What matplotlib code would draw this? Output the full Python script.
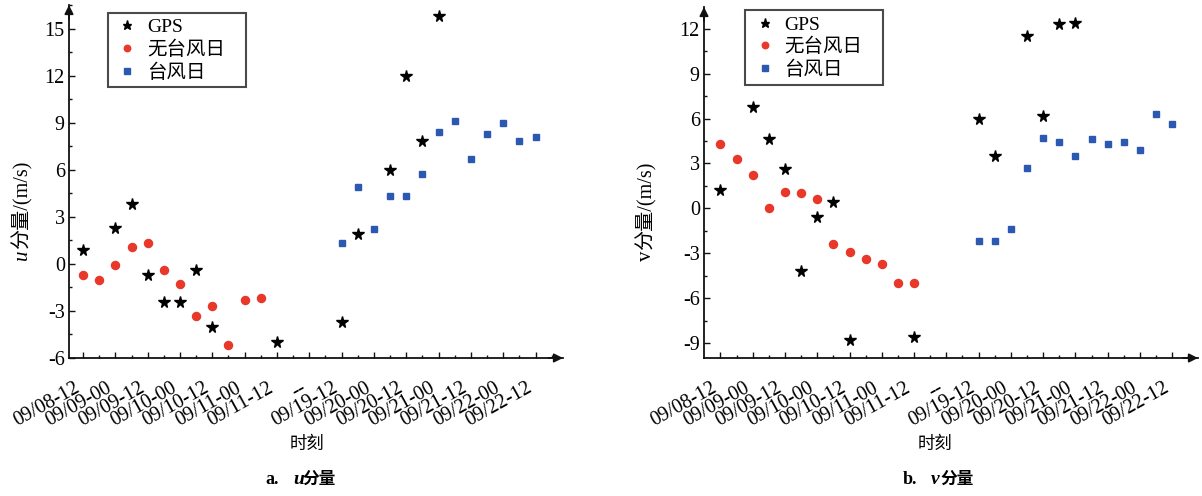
import matplotlib
matplotlib.use('Agg')
import matplotlib.pyplot as plt
from matplotlib.ticker import MultipleLocator, FixedLocator

SERIF = ['Liberation Serif', 'Noto Sans CJK SC']
CJK = ['Noto Sans CJK SC', 'Liberation Serif']
plt.rcParams['font.family'] = SERIF
plt.rcParams['axes.unicode_minus'] = False

# ---------------- data ----------------
tick_labels = ['09/08-12', '09/09-00', '09/09-12', '09/10-00', '09/10-12',
               '09/11-00', '09/11-12', '--', '09/19-12', '09/20-00',
               '09/20-12', '09/21-00', '09/21-12', '09/22-00', '09/22-12']
major_slots = list(range(0, 29, 2))
minor_slots = list(range(1, 30, 2))

# panel a: u component
gps_a_slot = [0, 2, 3, 4, 5, 6, 7, 8, 12, 16, 17, 19, 20, 21, 22]
gps_a_val = [0.9, 2.3, 3.8, -0.7, -2.4, -2.4, -0.4, -4.0, -5.0,
             -3.7, 1.9, 6.0, 12.0, 7.8, 15.8]
calm_a_slot = [0, 1, 2, 3, 4, 5, 6, 7, 8, 9, 10, 11]
calm_a_val = [-0.7, -1.0, -0.1, 1.1, 1.3, -0.4, -1.3, -3.3, -2.7, -5.2, -2.3, -2.2]
typh_a_slot = [16, 17, 18, 19, 20, 21, 22, 23, 24, 25, 26, 27, 28]
typh_a_val = [1.3, 4.9, 2.2, 4.3, 4.3, 5.7, 8.4, 9.1, 6.7, 8.3, 9.0, 7.8, 8.1]

# panel b: v component
gps_b_slot = [0, 2, 3, 4, 5, 6, 7, 8, 12, 16, 17, 19, 20, 21, 22]
gps_b_val = [1.2, 6.8, 4.6, 2.6, -4.2, -0.6, 0.4, -8.8, -8.6,
             6.0, 3.5, 11.5, 6.2, 12.3, 12.4]
calm_b_slot = [0, 1, 2, 3, 4, 5, 6, 7, 8, 9, 10, 11, 12]
calm_b_val = [4.3, 3.3, 2.2, 0.0, 1.1, 1.0, 0.6, -2.4, -2.9, -3.4, -3.7, -5.0, -5.0]
typh_b_slot = [16, 17, 18, 19, 20, 21, 22, 23, 24, 25, 26, 27, 28]
typh_b_val = [-2.2, -2.2, -1.4, 2.7, 4.7, 4.4, 3.5, 4.6, 4.3, 4.4, 3.9, 6.3, 5.6]

series_names = ['GPS', '无台风日', '台风日']
RED = '#e8382a'
BLUE = '#2b58b0'

# ---------------- figure ----------------
W, H = 1202, 496
fig = plt.figure(figsize=(W / 100, H / 100), dpi=100)


def px_axes(l, r, b, t):
    return fig.add_axes([l / W, 1 - b / H, (r - l) / W, (b - t) / H])


def panel(ax, xlim, ylim, gps, calm, typh, legend_xy, ylab, var, lab_xy, italic_var):
    ax.set_xlim(*xlim)
    ax.set_ylim(*ylim)
    for s in ['top', 'right']:
        ax.spines[s].set_visible(False)
    for s in ['left', 'bottom']:
        ax.spines[s].set_linewidth(1.3)
        ax.spines[s].set_color('#111111')
    ax.xaxis.set_major_locator(FixedLocator(major_slots))
    ax.xaxis.set_minor_locator(FixedLocator(minor_slots))
    ax.set_xticklabels(tick_labels, rotation=29, ha='right', va='top',
                       fontsize=14.5, family=SERIF)
    ax.yaxis.set_major_locator(MultipleLocator(3))
    ax.yaxis.set_minor_locator(MultipleLocator(1.5))
    ax.tick_params(which='both', direction='in', width=1.0, color='#111111')
    ax.tick_params(which='major', length=4)
    ax.tick_params(which='minor', length=2.2)
    ax.tick_params(axis='y', labelsize=14.5, pad=3)
    ax.tick_params(axis='x', pad=15)

    # axis arrows
    ax.annotate('', xy=(1.0, 0), xytext=(0.97, 0), xycoords='axes fraction',
                arrowprops=dict(arrowstyle='-|>', color='#111111', lw=1.3,
                                mutation_scale=13, shrinkA=0, shrinkB=0))
    ax.annotate('', xy=(0, 1.0), xytext=(0, 0.96), xycoords='axes fraction',
                arrowprops=dict(arrowstyle='-|>', color='#111111', lw=1.3,
                                mutation_scale=13, shrinkA=0, shrinkB=0))

    h1, = ax.plot(gps[0], gps[1], ls='none', marker='*', ms=8.5, color='black',
                  label=series_names[0], clip_on=False, zorder=3)
    h2, = ax.plot(calm[0], calm[1], ls='none', marker='o', ms=5.8, color=RED,
                  mec=RED, label=series_names[1], clip_on=False, zorder=3)
    h3, = ax.plot(typh[0], typh[1], ls='none', marker='s', ms=5.0, color=BLUE,
                  mec=BLUE, label=series_names[2], clip_on=False, zorder=3)

    leg = ax.legend(handles=[h1, h2, h3], loc='upper left',
                    bbox_to_anchor=(legend_xy[0], legend_xy[1], 0.279, 0.0),
                    mode='expand', borderaxespad=0, fancybox=False,
                    edgecolor='#4a4a4a', framealpha=1,
                    handlelength=1.4, handletextpad=0.3, borderpad=0.3,
                    labelspacing=0.22, markerscale=0.8,
                    prop={'family': SERIF, 'size': 14})
    leg.get_frame().set_linewidth(1.5)

    ax.set_ylabel(ylab, fontsize=14.5, family=SERIF)
    ax.yaxis.set_label_coords(*lab_xy)
    if var:
        ylabel = ax.yaxis.label
        ax.annotate(var, xy=(0.55, 0), xycoords=ylabel, xytext=(0, -0.5),
                    textcoords='offset points', rotation=90, ha='center',
                    va='top', fontsize=15, family='Liberation Serif',
                    style='italic' if italic_var else 'normal')


ax_a = px_axes(69, 563, 358, 5)
panel(ax_a, (-0.87, 29.7), (-6, 16.5),
      (gps_a_slot, gps_a_val), (calm_a_slot, calm_a_val), (typh_a_slot, typh_a_val),
      (0.079, 0.978), '分量/(m/s)', 'u', (-0.074, 0.435), True)

ax_b = px_axes(704, 1198, 358, 7)
panel(ax_b, (-1.02, 29.6), (-10, 13.45),
      (gps_b_slot, gps_b_val), (calm_b_slot, calm_b_val), (typh_b_slot, typh_b_val),
      (0.084, 0.991), '分量/(m/s)', 'v', (-0.097, 0.435), False)


def ftext(x, y, s, **kw):
    return fig.text(x / W, 1 - y / H, s, **kw)


for dx in (0, 628):
    ftext(307 + dx, 444, '时刻', ha='center', va='center', fontsize=12.5, family=CJK)

# captions
ftext(265, 479, 'a.', ha='left', va='center', fontsize=13, weight='bold',
      family='Liberation Serif')
ftext(293, 479, 'u', ha='left', va='center', fontsize=14, weight='bold',
      style='italic', family='Liberation Serif')
ftext(302, 479, '分量', ha='left', va='center', fontsize=12, weight='bold',
      family=CJK)

ftext(903, 479, 'b.', ha='left', va='center', fontsize=13, weight='bold',
      family='Liberation Serif')
ftext(931, 479, 'v', ha='left', va='center', fontsize=14, weight='bold',
      style='italic', family='Liberation Serif')
ftext(940, 479, '分量', ha='left', va='center', fontsize=12, weight='bold',
      family=CJK)

fig.savefig('out.png', dpi=100)
